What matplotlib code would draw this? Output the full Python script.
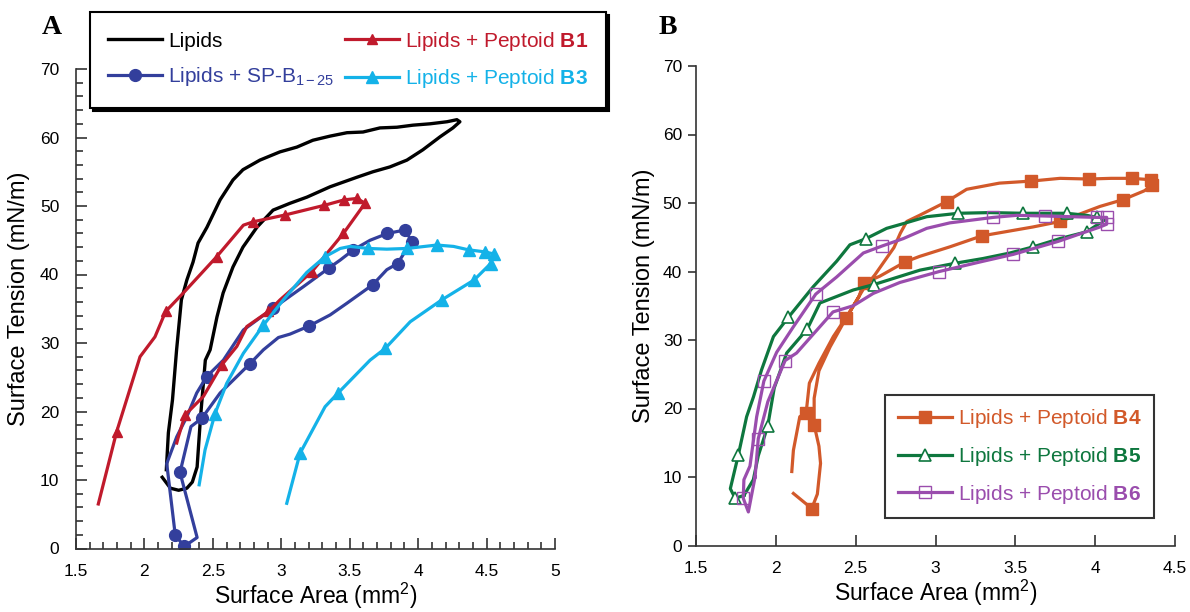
import matplotlib
matplotlib.use("Agg")
import matplotlib.pyplot as plt
from matplotlib.ticker import MultipleLocator

plt.rcParams['font.family'] = ['Liberation Sans', 'DejaVu Sans']
plt.rcParams['mathtext.fontset'] = 'custom'
plt.rcParams['mathtext.rm'] = 'Liberation Sans'
plt.rcParams['mathtext.bf'] = 'Liberation Sans:bold'
plt.rcParams['mathtext.it'] = 'Liberation Sans:italic'

# ---------------- Panel A data ----------------
lip_x = [2.13, 2.19, 2.25, 2.31, 2.35, 2.385, 2.40, 2.41, 2.445, 2.48, 2.53, 2.575, 2.647,
         2.72, 2.822, 2.94, 3.064, 3.188, 3.356, 3.553, 3.67, 3.793, 3.918, 4.034, 4.16,
         4.254, 4.305, 4.283, 4.211, 4.087, 3.962, 3.845, 3.721, 3.597, 3.48, 3.356,
         3.231, 3.114, 2.99, 2.844, 2.72, 2.647, 2.553, 2.457, 2.392, 2.355, 2.31, 2.27,
         2.235, 2.205, 2.175, 2.16]
lip_y = [10.4, 8.8, 8.5, 8.8, 9.7, 11.9, 16.3, 19.2, 27.5, 29.0, 33.8, 37.3, 41.1,
         44.0, 46.9, 49.4, 50.4, 51.3, 52.8, 54.2, 55.0, 55.7, 56.7, 58.2, 60.1,
         61.4, 62.3, 62.6, 62.3, 62.0, 61.8, 61.5, 61.4, 60.8, 60.7, 60.2,
         59.6, 58.6, 57.9, 56.7, 55.3, 53.8, 50.9, 46.9, 44.6, 41.8, 39.2, 36.3,
         29.0, 21.7, 16.9, 11.5]

spb_x = [2.26, 2.385, 2.29, 2.225, 2.163, 2.236, 2.309, 2.382, 2.455, 2.577, 2.723, 2.942,
         3.16, 3.345, 3.43, 3.527, 3.649, 3.776, 3.905, 3.954, 3.90, 3.85, 3.771, 3.668,
         3.479, 3.357, 3.2, 3.064, 2.979, 2.869, 2.772, 2.553, 2.419, 2.34, 2.26]
spb_y = [11.1, 1.6, 0.3, 2.0, 12.4, 16.3, 19.2, 22.7, 25.1, 27.5, 31.9, 35.1,
         38.2, 40.9, 42.1, 43.6, 45.0, 46.0, 46.5, 44.8, 43.2, 41.6, 40.7, 38.5,
         35.8, 34.1, 32.45, 31.3, 30.8, 29.0, 27.0, 22.7, 19.0, 17.8, 11.1]
spb_marks = [0, 2, 3, 8, 11, 13, 15, 17, 18, 19, 21, 23, 26, 30, 32]

b1_x = [1.663, 1.797, 1.968, 2.077, 2.155, 2.284, 2.528, 2.723, 2.796, 3.03, 3.315, 3.46,
        3.552, 3.613, 3.576, 3.454, 3.223, 2.991, 2.906, 2.748, 2.675, 2.565, 2.431,
        2.297, 2.248, 2.236]
b1_y = [6.5, 17.05, 28.0, 30.9, 34.6, 37.3, 42.6, 47.2, 47.7, 48.7, 50.1, 50.9,
        51.1, 50.4, 49.4, 46.0, 40.4, 36.3, 34.6, 32.4, 29.5, 26.8, 22.2,
        19.5, 16.3, 15.4]
b1_marks = [1, 4, 6, 8, 9, 10, 11, 12, 13, 15, 16, 18, 21, 23]

b3_x = [2.40, 2.443, 2.516, 2.601, 2.723, 2.869, 3.015, 3.186, 3.32, 3.43, 3.503, 3.637,
        3.771, 3.917, 4.136, 4.259, 4.368, 4.49, 4.551, 4.53, 4.409, 4.173, 3.942,
        3.759, 3.649, 3.415, 3.32, 3.137, 3.04]
b3_y = [9.3, 14.4, 19.7, 24.1, 28.5, 32.6, 36.3, 40.3, 42.6, 43.8, 44.1, 43.8,
        43.7, 43.8, 44.3, 44.1, 43.6, 43.3, 43.0, 41.6, 39.2, 36.3, 33.1,
        29.2, 27.5, 22.7, 20.7, 13.9, 6.6]
b3_marks = [2, 5, 8, 11, 13, 14, 16, 17, 18, 19, 20, 21, 23, 25, 27]

# ---------------- Panel B data ----------------
b4_x = [2.10, 2.11, 2.15, 2.19, 2.21, 2.27, 2.36, 2.46, 2.55, 2.62, 2.68, 2.74, 2.78,
        2.82, 2.90, 3.07, 3.195, 3.40, 3.60, 3.78, 3.96, 4.10, 4.23, 4.347, 4.353,
        4.31, 4.176, 4.03, 3.78, 3.61, 3.29, 3.09, 2.90, 2.81, 2.65, 2.55, 2.52,
        2.44, 2.34, 2.27, 2.24, 2.24, 2.27, 2.28, 2.26, 2.225, 2.11]
b4_y = [10.8, 13.9, 18.8, 19.4, 23.7, 26.6, 30.5, 34.0, 37.5, 39.5, 41.5, 43.5, 45.6,
        47.3, 48.2, 50.2, 52.0, 52.9, 53.2, 53.6, 53.5, 53.6, 53.6, 53.4, 52.6,
        51.8, 50.5, 49.5, 47.3, 46.5, 45.2, 43.6, 42.2, 41.4, 39.3, 38.3, 36.3,
        33.2, 29.0, 25.5, 21.5, 17.6, 14.5, 12.0, 7.5, 5.4, 7.6]
b4_marks = [3, 15, 18, 20, 22, 23, 24, 26, 28, 30, 33, 35, 37, 41, 45]

b5_x = [1.80, 1.745, 1.715, 1.765, 1.817, 1.86, 1.91, 1.985, 2.078, 2.235, 2.381, 2.464,
        2.565, 2.694, 2.80, 2.945, 3.143, 3.341, 3.55, 3.821, 3.947, 4.009, 4.072,
        3.947, 3.779, 3.612, 3.466, 3.299, 3.122, 2.903, 2.615, 2.485, 2.276, 2.197,
        2.068, 1.99, 1.949, 1.89, 1.859, 1.80]
b5_y = [7.3, 6.9, 8.3, 13.2, 18.8, 21.7, 25.6, 30.5, 33.3, 37.8, 41.5, 43.9,
        44.8, 46.3, 47.0, 48.0, 48.5, 48.6, 48.5, 48.5, 48.2, 47.9, 47.7,
        45.8, 44.8, 43.6, 42.7, 41.9, 41.2, 40.2, 38.1, 37.3, 35.4, 31.6,
        28.1, 23.0, 17.4, 13.1, 9.6, 7.3]
b5_marks = [1, 3, 8, 12, 16, 18, 19, 21, 23, 25, 28, 30, 33, 36]

b6_x = [1.87, 1.828, 1.796, 1.80, 1.838, 1.88, 1.925, 2.005, 2.109, 2.25, 2.381, 2.548,
        2.663, 2.798, 2.945, 3.09, 3.362, 3.508, 3.685, 3.85, 4.009, 4.072, 4.072,
        4.03, 3.769, 3.487, 3.299, 3.024, 2.777, 2.61, 2.485, 2.358, 2.13, 2.058,
        1.95, 1.89, 1.87]
b6_y = [10.0, 4.9, 6.9, 9.6, 11.6, 18.8, 24.0, 28.2, 31.9, 36.7, 39.2, 42.7,
        43.7, 44.8, 46.3, 47.1, 47.9, 48.2, 48.1, 48.0, 47.9, 47.9, 46.9,
        46.5, 44.4, 42.5, 41.5, 40.0, 38.4, 36.8, 35.0, 34.1, 28.1, 27.0,
        21.0, 15.6, 10.0]
b6_marks = [2, 6, 9, 12, 16, 18, 20, 21, 22, 24, 25, 27, 31, 33, 35]

xticks_A = [1.5, 2, 2.5, 3, 3.5, 4, 4.5, 5]
xticks_B = [1.5, 2, 2.5, 3, 3.5, 4, 4.5]
yticks = [0, 10, 20, 30, 40, 50, 60, 70]

C_BLACK = '#000000'
C_RED = '#C01A2C'
C_BLUE = '#333F9C'
C_CYAN = '#14B2E8'
C_ORANGE = '#D2592A'
C_GREEN = '#0E773E'
C_PURPLE = '#9A4DAD'

fig = plt.figure(figsize=(11.9, 6.12), dpi=100)
axA = fig.add_axes([76/1190, 1-548.5/612, 479/1190, 479.5/612])
axB = fig.add_axes([696/1190, 1-545.5/612, 479/1190, 479.5/612])

lw = 2.3
axA.plot(lip_x, lip_y, color=C_BLACK, lw=2.4, label='Lipids')
axA.plot(spb_x, spb_y, color=C_BLUE, lw=lw, marker='o', ms=8.5, markevery=spb_marks,
         label=r'Lipids + SP-B$_{\mathregular{1-25}}$')
axA.plot(b1_x, b1_y, color=C_RED, lw=lw, marker='^', ms=7, markevery=b1_marks,
         label=r'Lipids + Peptoid $\mathbf{B1}$')
axA.plot(b3_x, b3_y, color=C_CYAN, lw=lw, marker='^', ms=8.5, markevery=b3_marks,
         label=r'Lipids + Peptoid $\mathbf{B3}$')

axB.plot(b4_x, b4_y, color=C_ORANGE, lw=lw, marker='s', ms=9, markevery=b4_marks,
         label=r'Lipids + Peptoid $\mathbf{B4}$')
axB.plot(b5_x, b5_y, color=C_GREEN, lw=lw, marker='^', ms=9, markevery=b5_marks,
         mfc='white', mew=1.2, label=r'Lipids + Peptoid $\mathbf{B5}$')
axB.plot(b6_x, b6_y, color=C_PURPLE, lw=lw, marker='s', ms=9, markevery=b6_marks,
         mfc='none', mew=1.0, label=r'Lipids + Peptoid $\mathbf{B6}$')

for ax, xt in ((axA, xticks_A), (axB, xticks_B)):
    for s in ('top', 'right'):
        ax.spines[s].set_visible(False)
    ax.spines['left'].set_color('#333333')
    ax.spines['bottom'].set_color('#333333')
    ax.spines['left'].set_linewidth(1.2)
    ax.spines['bottom'].set_linewidth(1.2)
    ax.set_xticks(xt)
    ax.set_xticklabels(['%g' % v for v in xt], fontsize=12.5)
    ax.set_yticks(yticks)
    ax.set_yticklabels(['%g' % v for v in yticks], fontsize=12.5)
    ax.set_xlim(xt[0], xt[-1])
    ax.set_ylim(yticks[0], yticks[-1])
    ax.set_xlabel(r'Surface Area (mm$^{\mathregular{2}}$)', fontsize=16.5)
    ax.set_ylabel('Surface Tension (mN/m)', fontsize=17)

axA.xaxis.set_minor_locator(MultipleLocator(0.1))
axA.yaxis.set_minor_locator(MultipleLocator(2))
axA.tick_params(axis='both', which='major', direction='in', length=8, width=1.2, colors='#333333',
                labelcolor='black')
axA.tick_params(axis='both', which='minor', direction='in', length=5, width=1.2, colors='#333333')
axA.tick_params(axis='y', pad=12)
axA.tick_params(axis='x', pad=11)
axB.tick_params(axis='x', which='major', direction='in', length=8, width=1.2, colors='#333333',
                labelcolor='black', pad=11)
axB.tick_params(axis='y', which='major', direction='out', length=6, width=1.2, colors='#333333',
                labelcolor='black', pad=4)

axA.xaxis.set_label_coords(0.5, -0.068)
axB.xaxis.set_label_coords(0.5, -0.068)
axA.yaxis.set_label_coords(-0.096, 0.52)
axB.yaxis.set_label_coords(-0.086, 0.52)

fig.text(52/1190, 1-28/612, 'A', fontsize=20, fontweight='bold', family='Liberation Serif',
         ha='center', va='center')
fig.text(668/1190, 1-28/612, 'B', fontsize=20, fontweight='bold', family='Liberation Serif',
         ha='center', va='center')

legA = axA.legend(loc='upper left', bbox_to_anchor=(90/1190, 1-12/612), bbox_transform=fig.transFigure,
                  ncol=2, fontsize=15, frameon=True, fancybox=False, edgecolor='black',
                  shadow={'color': 'black', 'alpha': 1}, labelcolor='linecolor',
                  handlelength=2.6, handletextpad=0.3, columnspacing=0.5, borderpad=0.85,
                  labelspacing=0.7, borderaxespad=0)
legA.get_frame().set_linewidth(1.5)
legA.set_zorder(10)

legB = axB.legend(loc='upper left', bbox_to_anchor=(885/1190, 1-395/612), bbox_transform=fig.transFigure,
                  ncol=1, fontsize=15, frameon=True, fancybox=False, edgecolor='black',
                  labelcolor='linecolor', handlelength=2.6, handletextpad=0.3, borderpad=0.6,
                  labelspacing=0.7, borderaxespad=0)
legB.get_frame().set_linewidth(1.5)

fig.savefig('out.png', dpi=100)
